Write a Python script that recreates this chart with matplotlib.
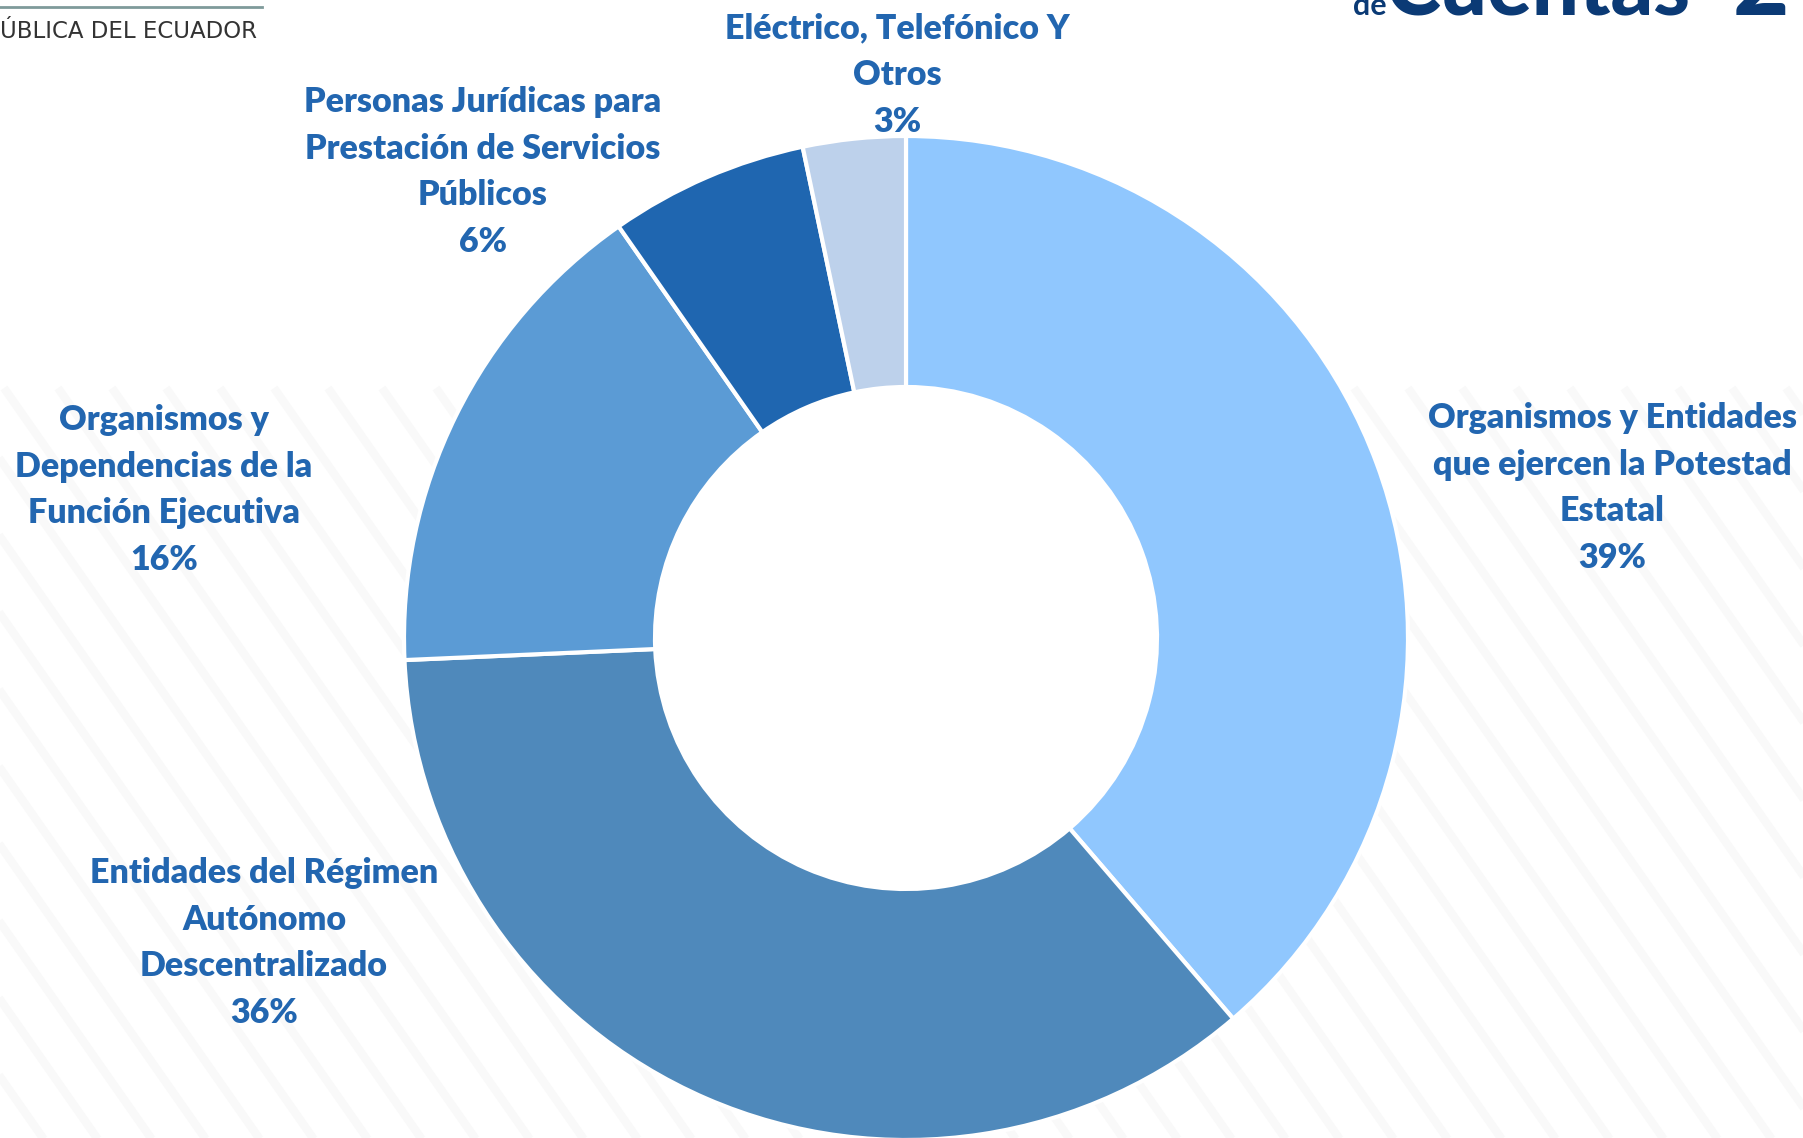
import matplotlib
matplotlib.use("Agg")
import matplotlib.pyplot as plt
from matplotlib.patches import Circle
import numpy as np

# ---- data ----
categories = [
    "Organismos y Entidades\nque ejercen la Potestad\nEstatal",
    "Entidades del Régimen\nAutónomo\nDescentralizado",
    "Organismos y\nDependencias de la\nFunción Ejecutiva",
    "Personas Jurídicas para\nPrestación de Servicios\nPúblicos",
    "Eléctrico, Telefónico Y\nOtros",
]
shares = [38.7, 35.6, 16.0, 6.4, 3.3]
pct_labels = ["39%", "36%", "16%", "6%", "3%"]
colors = ["#90C7FE", "#4F89BB", "#5B9BD5", "#1F66B0", "#BDD1EB"]

# label anchor positions (pixel layout, top-left origin)
label_pos = [(1612, 488), (264, 943), (164, 490), (483, 172), (897, 75)]

W, H = 1803, 1138
fig = plt.figure(figsize=(W / 100, H / 100), dpi=100)
ax = fig.add_axes([0, 0, 1, 1])
ax.set_xlim(0, W)
ax.set_ylim(0, H)
ax.set_aspect("equal")
ax.axis("off")

# very faint background stripes
for x0 in np.arange(-1400, W + 200, 54):
    ax.plot([x0, x0 + 800], [750, -393], color="#f9f9f9", lw=6, zorder=0,
            solid_capstyle="butt")

cx, cy, R = 906, H - 638, 502
ax.add_patch(Circle((cx, cy), R * 0.5, facecolor="white", edgecolor="none",
                    zorder=0.5))
ax.pie(shares, colors=colors, startangle=90, counterclock=False,
       center=(cx, cy), radius=R,
       wedgeprops=dict(width=R * 0.5, edgecolor="white", linewidth=3))
ax.set_xlim(0, W)
ax.set_ylim(0, H)

txt_color = "#2266B0"
for cat, p, (x, y) in zip(categories, pct_labels, label_pos):
    ax.text(x, H - y, cat + "\n" + p, ha="center", va="center",
            multialignment="center", fontsize=24.5, fontweight="heavy",
            family="Lato", color=txt_color, linespacing=1.57)

# cropped header logos
ax.plot([0, 262], [H - 7, H - 7], color="#7f9a9a", lw=2)
ax.text(0, H - 31, "ÚBLICA DEL ECUADOR", ha="left", va="center",
        fontsize=16.5, family="DejaVu Sans", color="#333333")
ax.text(1353, H - 15, "de", ha="left", va="baseline", fontsize=22,
        fontweight="bold", family="Lato", color="#0B3A75")
ax.text(1385, H - 15, "Cuentas", ha="left", va="baseline", fontsize=60,
        fontweight="black", family="Lato", color="#0B3A75")
ax.text(1733, H - 15, "2", ha="left", va="baseline", fontsize=70,
        fontweight="black", family="Lato", color="#0B3A75")

fig.savefig("out.png", dpi=100, facecolor="white")
